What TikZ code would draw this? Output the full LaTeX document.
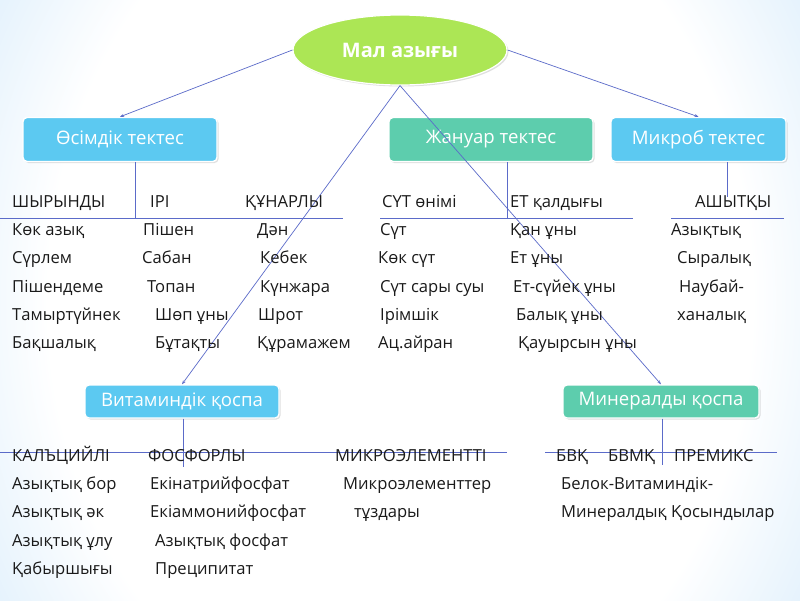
\documentclass[tikz,border=0pt]{standalone}
\usepackage{fontspec}
\setmainfont{Open Sans}
\usetikzlibrary{shapes.geometric,shadows,arrows.meta,calc}
\definecolor{bgblue}{HTML}{A3D2F6}
\definecolor{boxblue}{HTML}{5CC9F1}
\definecolor{boxteal}{HTML}{5DCDAD}
\definecolor{limec}{HTML}{ACE655}
\definecolor{linec}{HTML}{5B6BC9}
\definecolor{txt}{HTML}{1A1A1A}
\pgfdeclareradialshading{bgshade}{\pgfpoint{0bp}{0bp}}{color(0bp)=(white); color(22bp)=(white); color(48bp)=(bgblue); color(100bp)=(bgblue)}
\begin{document}
\begin{tikzpicture}[x=1pt,y=-1pt,
  lab/.style={anchor=base west, text=txt, font=\fontsize{16.6}{18}\selectfont, inner sep=0pt},
  catbox/.style={rounded corners=4pt, draw=white, line width=1.4pt, text=white,
     font=\fontsize{18.6}{20}\selectfont, drop shadow={opacity=0.25,shadow xshift=1.5pt,shadow yshift=-1.5pt}},
  conn/.style={draw=linec, line width=0.7pt},
  arr/.style={conn, -{Stealth[length=4pt,width=3pt]}}]
\useasboundingbox (0,0) rectangle (800,600);
\fill[bgblue] (0,0) rectangle (800,600);
\begin{scope}
\clip (0,0) rectangle (800,600);
\shade[shading=bgshade] (0,-200) rectangle (800,800);
\end{scope}

% root
\node[ellipse, fill=limec, draw=white, line width=1.2pt, minimum width=214pt, minimum height=70pt,
  text=white, font=\fontsize{20}{22}\selectfont\bfseries,
  drop shadow={opacity=0.25,shadow xshift=1.5pt,shadow yshift=-1.5pt}] (root) at (400,50) {Мал азығы};

% category boxes
\node[catbox, fill=boxblue, minimum width=194pt, minimum height=44pt] (veg) at (120,139.5) {Өсімдік тектес};
\node[catbox, fill=boxteal, minimum width=204pt, minimum height=44pt] (ani) at (491,139.5) {Жануар тектес};
\node[catbox, fill=boxblue, minimum width=175pt, minimum height=44pt] (mic) at (698.5,139.5) {Микроб тектес};
\node[catbox, fill=boxblue, minimum width=194pt, minimum height=33pt] (vit) at (182,401.5) {Витаминдік қоспа};
\node[catbox, fill=boxteal, minimum width=196pt, minimum height=33pt] (min) at (661,401.5) {Минералды қоспа};

% connectors from root
\draw[arr] (root.west) -- (veg.north);
\draw[arr] (root.east) -- (mic.north);
\draw[arr] (root.south) -- (vit.north);
\draw[arr] (root.south) -- (min.north);

% table lines (top)
\coordinate (vA) at (135,218);
\coordinate (vB) at (507,218);
\coordinate (vC) at (727,197);
\coordinate (hA1) at (0,218);   \coordinate (hA2) at (343,218);
\coordinate (hB1) at (380,218); \coordinate (hB2) at (633,218);
\coordinate (hC1) at (671,218); \coordinate (hC2) at (784,218);
\draw[conn] (veg.south -| vA) -- (vA);
\draw[conn] (ani.south -| vB) -- (vB);
\draw[conn] (mic.south -| vC) -- (vC);
\draw[conn] (hA1) -- (hA2);
\draw[conn] (hB1) -- (hB2);
\draw[conn] (hC1) -- (hC2);

% table lines (bottom)
\coordinate (vD) at (183,467);
\coordinate (vE) at (662,465);
\coordinate (hD1) at (0,452);   \coordinate (hD2) at (507,452);
\coordinate (hE1) at (545,452); \coordinate (hE2) at (777,452);
\draw[conn] (vit.south -| vD) -- (vD);
\draw[conn] (min.south -| vE) -- (vE);
\draw[conn] (hD1) -- (hD2);
\draw[conn] (hE1) -- (hE2);

% top table text
\node[lab] (a01) at (12,207) {ШЫРЫНДЫ};
\node[lab] (a02) at (150,207) {ІРІ};
\node[lab] (a03) at (245,207) {ҚҰНАРЛЫ};
\node[lab] (a04) at (382,207) {СҮТ өнімі};
\node[lab] (a05) at (510,207) {ЕТ қалдығы};
\node[lab] (a06) at (695,207) {АШЫТҚЫ};

\node[lab] (a11) at (12,235) {Көк азық};
\node[lab] (a12) at (143,235) {Пішен};
\node[lab] (a13) at (257,235) {Дән};
\node[lab] (a14) at (380,235) {Сүт};
\node[lab] (a15) at (510,235) {Қан ұны};
\node[lab] (a16) at (671,235) {Азықтық};

\node[lab] (a21) at (12,263) {Сүрлем};
\node[lab] (a22) at (142,263) {Сабан};
\node[lab] (a23) at (260,263) {Кебек};
\node[lab] (a24) at (378,263) {Көк сүт};
\node[lab] (a25) at (510,263) {Ет ұны};
\node[lab] (a26) at (677,263) {Сыралық};

\node[lab] (a31) at (12,292) {Пішендеме};
\node[lab] (a32) at (147,292) {Топан};
\node[lab] (a33) at (260,292) {Күнжара};
\node[lab] (a34) at (380,292) {Сүт сары суы};
\node[lab] (a35) at (513,292) {Ет-сүйек ұны};
\node[lab] (a36) at (679,292) {Наубай-};

\node[lab] (a41) at (12,320) {Тамыртүйнек};
\node[lab] (a42) at (155,320) {Шөп ұны};
\node[lab] (a43) at (258,320) {Шрот};
\node[lab] (a44) at (380,320) {Ірімшік};
\node[lab] (a45) at (516,320) {Балық ұны};
\node[lab] (a46) at (677,320) {ханалық};

\node[lab] (a51) at (12,348) {Бақшалық};
\node[lab] (a52) at (155,348) {Бұтақты};
\node[lab] (a53) at (257,348) {Құрамажем};
\node[lab] (a54) at (378,348) {Ац.айран};
\node[lab] (a55) at (518,348) {Қауырсын ұны};

% bottom table text
\node[lab] (b01) at (12,461) {КАЛЪЦИЙЛІ};
\node[lab] (b02) at (148,461) {ФОСФОРЛЫ};
\node[lab] (b03) at (335,461) {МИКРОЭЛЕМЕНТТІ};
\node[lab] (b04) at (556,461) {БВҚ};
\node[lab] (b05) at (608,461) {БВМҚ};
\node[lab] (b06) at (674,461) {ПРЕМИКС};

\node[lab] (b11) at (12,489) {Азықтық бор};
\node[lab] (b12) at (150,489) {Екінатрийфосфат};
\node[lab] (b13) at (343,489) {Микроэлементтер};
\node[lab] (b14) at (561,489) {Белок-Витаминдік-};

\node[lab] (b21) at (12,517) {Азықтық әк};
\node[lab] (b22) at (150,517) {Екіаммонийфосфат};
\node[lab] (b23) at (354,517) {тұздары};
\node[lab] (b24) at (561,517) {Минералдық Қосындылар};

\node[lab] (b31) at (12,546) {Азықтық ұлу};
\node[lab] (b32) at (155,546) {Азықтық фосфат};

\node[lab] (b41) at (12,574) {Қабыршығы};
\node[lab] (b42) at (155,574) {Преципитат};
\end{tikzpicture}
\end{document}
